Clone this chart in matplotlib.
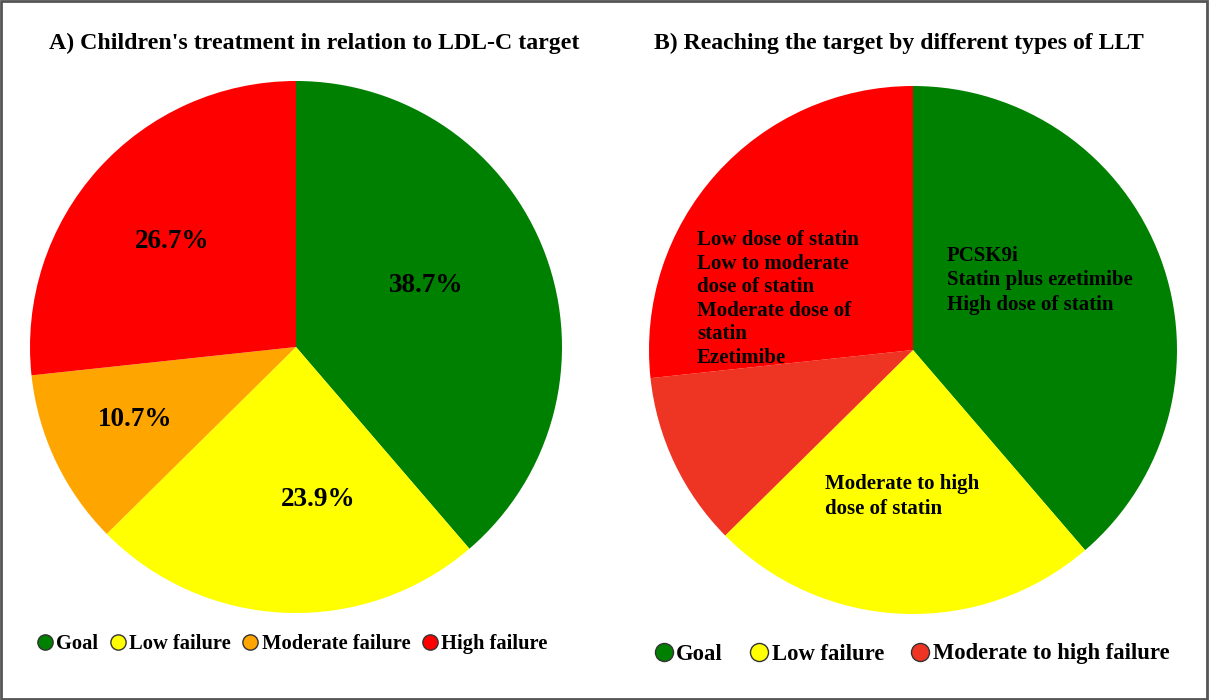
import matplotlib.pyplot as plt
from matplotlib.lines import Line2D
from matplotlib.patches import Rectangle

plt.rcParams['font.family'] = ['Liberation Serif', 'DejaVu Serif']
plt.rcParams['font.weight'] = 'bold'

## Data
shares = [38.7, 23.9, 10.7, 26.7]
labels_a = ["Goal", "Low failure", "Moderate failure", "High failure"]
colors_a = ["#008000", "#FFFF00", "#FFA500", "#FF0000"]
colors_b = ["#008000", "#FFFF00", "#EE3524", "#FF0000"]

labels_b = ["Goal", "Low failure", "Moderate to high failure"]
colors_b_legend = ["#008000", "#FFFF00", "#EE3524"]

goal_text = "PCSK9i\nStatin plus ezetimibe\nHigh dose of statin"
low_text = "Moderate to high\ndose of statin"
high_text = ("Low dose of statin\nLow to moderate\ndose of statin\n"
             "Moderate dose of\nstatin\nEzetimibe")

W, H = 1209, 700
fig = plt.figure(figsize=(W / 100, H / 100), dpi=100)

def pie_axes(cx, cy, r):
    ax = fig.add_axes([(cx - r) / W, (H - cy - r) / H, 2 * r / W, 2 * r / H])
    return ax

# A) left pie
ax1 = pie_axes(296, 347, 266)
wedges, _, autotexts = ax1.pie(shares, colors=colors_a, startangle=90, counterclock=False,
                               autopct='%.1f%%', pctdistance=0.6, radius=1, frame=True,
                               textprops=dict(fontsize=19.5, fontweight='bold'))
ax1.set_xlim(-1, 1)
ax1.set_ylim(-1, 1)
ax1.axis('off')
# label positions inside the wedges
pct_pos = [(0.49, 0.233), (0.083, -0.575), (-0.605, -0.274), (-0.466, 0.395)]
for t, p in zip(autotexts, pct_pos):
    t.set_position(p)

fig.text(314 / W, 1 - 43 / H, "A) Children's treatment in relation to LDL-C target",
         ha='center', va='center', fontsize=17.2, fontweight='bold')

handles_a = [Line2D([], [], marker='o', linestyle='', markersize=11,
                    markerfacecolor=c, markeredgecolor='#333333') for c in colors_a]
fig.legend(handles_a, labels_a, loc='center', bbox_to_anchor=(291 / W, 1 - 644 / H),
           ncol=4, frameon=False, fontsize=14.8, handletextpad=0.05, columnspacing=0.45,
           handlelength=1.0, borderpad=0)

# B) right pie
ax2 = pie_axes(913, 350, 264)
ax2.pie(shares, colors=colors_b, startangle=90, counterclock=False, radius=1, frame=True)
ax2.set_xlim(-1, 1)
ax2.set_ylim(-1, 1)
ax2.axis('off')
ax2.text(0.129, 0.265, goal_text, ha='left', va='center', fontsize=15, linespacing=1.3)
ax2.text(-0.818, 0.193, high_text, ha='left', va='center', fontsize=15, linespacing=1.23)
ax2.text(-0.333, -0.555, low_text, ha='left', va='center', fontsize=15, linespacing=1.3)

fig.text(899 / W, 1 - 43 / H, "B) Reaching the target by different types of LLT",
         ha='center', va='center', fontsize=17.1, fontweight='bold')

handles_b = [Line2D([], [], marker='o', linestyle='', markersize=13,
                    markerfacecolor=c, markeredgecolor='#333333') for c in colors_b_legend]
fig.legend(handles_b, labels_b, loc='center', bbox_to_anchor=(911 / W, 1 - 654 / H),
           ncol=3, frameon=False, fontsize=16.3, handletextpad=0.05, columnspacing=1.1,
           handlelength=1.0, borderpad=0)

# border
fig.patches.append(Rectangle((0.001, 0.002), 0.997, 0.996, transform=fig.transFigure,
                             fill=False, edgecolor='#555555', linewidth=2))

fig.savefig('out.png', dpi=100)
